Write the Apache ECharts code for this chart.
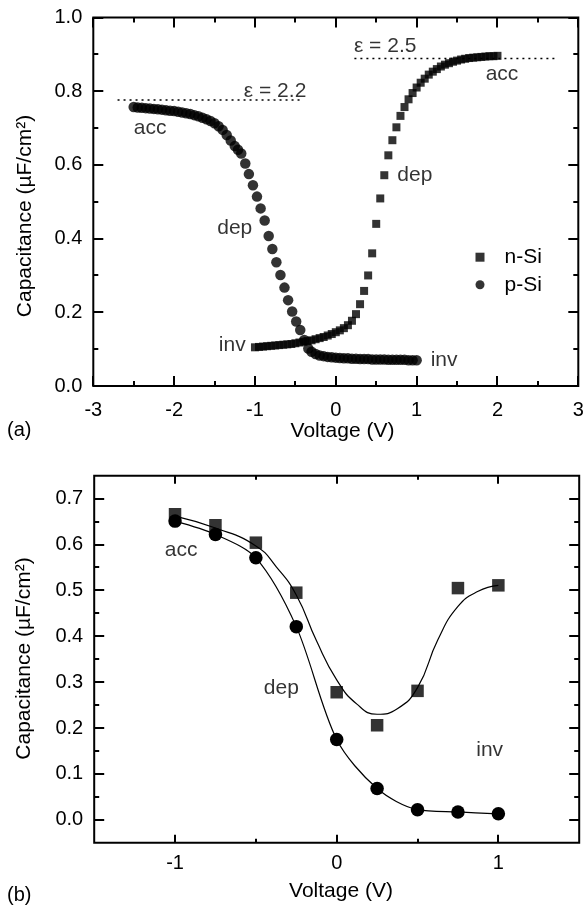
<!DOCTYPE html>
<html><head><meta charset="utf-8">
<script src="https://cdn.jsdelivr.net/npm/echarts@6/dist/echarts.min.js"></script>
<style>html,body{margin:0;padding:0;background:#fff}#c{width:585px;height:905px}</style>
</head><body><div id="c"></div>
<script>
const FONT = '"Liberation Sans", Arial, Helvetica, sans-serif';

// ---------- (a) top panel data ----------
const nSiVoltA = [-1.00,-0.95,-0.90,-0.85,-0.80,-0.75,-0.70,-0.65,-0.60,-0.55,-0.50,-0.45,-0.40,-0.35,-0.30,-0.25,-0.20,-0.15,-0.10,-0.05,0.00,0.05,0.10,0.15,0.20,0.25,0.30,0.35,0.40,0.45,0.50,0.55,0.60,0.65,0.70,0.75,0.80,0.85,0.90,0.95,1.00,1.05,1.10,1.15,1.20,1.25,1.30,1.35,1.40,1.45,1.50,1.55,1.60,1.65,1.70,1.75,1.80,1.85,1.90,1.95,2.00];
const nSiCapA = [0.105,0.106,0.107,0.108,0.109,0.110,0.111,0.112,0.113,0.114,0.116,0.118,0.120,0.122,0.124,0.127,0.130,0.133,0.137,0.141,0.146,0.151,0.157,0.165,0.177,0.195,0.222,0.258,0.300,0.360,0.440,0.509,0.572,0.626,0.667,0.702,0.733,0.757,0.778,0.795,0.810,0.823,0.834,0.845,0.853,0.860,0.867,0.872,0.876,0.880,0.883,0.886,0.888,0.890,0.891,0.892,0.893,0.894,0.895,0.895,0.896];

const pSiVoltA = [-2.50,-2.45,-2.40,-2.35,-2.30,-2.25,-2.20,-2.15,-2.10,-2.05,-2.00,-1.95,-1.90,-1.85,-1.80,-1.75,-1.70,-1.65,-1.60,-1.55,-1.50,-1.45,-1.40,-1.35,-1.30,-1.25,-1.21,-1.17,-1.12,-1.075,-1.025,-0.975,-0.93,-0.88,-0.83,-0.785,-0.735,-0.685,-0.635,-0.59,-0.54,-0.49,-0.44,-0.39,-0.34,-0.30,-0.25,-0.20,-0.15,-0.10,-0.05,0.00,0.05,0.10,0.15,0.20,0.25,0.30,0.35,0.40,0.45,0.50,0.55,0.60,0.65,0.70,0.75,0.80,0.85,0.90,0.95,1.00];
const pSiCapA = [0.757,0.756,0.755,0.754,0.753,0.752,0.751,0.750,0.748,0.747,0.746,0.744,0.742,0.740,0.738,0.735,0.732,0.728,0.724,0.719,0.713,0.705,0.695,0.681,0.666,0.651,0.641,0.631,0.604,0.575,0.545,0.514,0.482,0.449,0.407,0.372,0.336,0.301,0.267,0.233,0.202,0.175,0.152,0.125,0.102,0.093,0.087,0.083,0.081,0.079,0.078,0.077,0.076,0.075,0.075,0.074,0.074,0.073,0.073,0.073,0.072,0.072,0.072,0.072,0.071,0.071,0.071,0.071,0.071,0.070,0.070,0.070];

const eps22Volt = [-2.70, -0.40];
const eps22Cap  = [0.776, 0.776];
const eps25Volt = [0.23, 2.735];
const eps25Cap  = [0.889, 0.889];

const notesTextA = ['ε = 2.2', 'ε = 2.5', 'acc', 'dep', 'inv', 'dep', 'acc', 'inv'];
const notesVoltA = [-1.144, 0.218, -2.505, -1.473, -1.453, 0.755, 1.848, 1.167];
const notesCapA  = [0.801, 0.921, 0.699, 0.429, 0.110, 0.572, 0.847, 0.071];

const xTicksA = [-3, -2, -1, 0, 1, 2, 3];
const xMinorA = [-2.5, -1.5, -0.5, 0.5, 1.5, 2.5];
const yTicksA = [0.0, 0.2, 0.4, 0.6, 0.8, 1.0];
const yMinorA = [0.1, 0.3, 0.5, 0.7, 0.9];

// ---------- (b) bottom panel data ----------
const voltB = [-1, -0.75, -0.5, -0.25, 0, 0.25, 0.5, 0.75, 1];
const nSiCapB = [0.666, 0.642, 0.604, 0.495, 0.278, 0.206, 0.281, 0.505, 0.511];
const pSiCapB = [0.651, 0.622, 0.571, 0.421, 0.175, 0.068, 0.022, 0.017, 0.013];
const nFitVoltB = [-1, -0.75, -0.5, -0.375, -0.25, -0.125, 0, 0.125, 0.25, 0.375, 0.5, 0.625, 0.75, 0.875, 1];
const nFitCapB  = [0.662, 0.636, 0.597, 0.552, 0.490, 0.390, 0.305, 0.252, 0.230, 0.242, 0.288, 0.392, 0.465, 0.498, 0.511];

const notesTextB = ['acc', 'dep', 'inv'];
const notesVoltB = [-1.066, -0.454, 0.86];
const notesCapB  = [0.588, 0.287, 0.152];

const xTicksB = [-1, 0, 1];
const xMinorB = [-0.5, 0.5];
const yTicksB = [0.0, 0.1, 0.2, 0.3, 0.4, 0.5, 0.6, 0.7];
const yMinorB = [0.05, 0.15, 0.25, 0.35, 0.45, 0.55, 0.65];

// ---------- helpers ----------
const BLACK = '#000';
const xy = (xs, ys) => xs.map((x, i) => [x, ys[i]]);

function valueAxis(gi, pos, min, max, extra, labelOpt) {
  return Object.assign({
    type: 'value', gridIndex: gi, position: pos, min: min, max: max,
    splitLine: { show: false }, minorSplitLine: { show: false },
    axisLine: { show: false, onZero: false }, axisTick: { show: false }, minorTick: { show: false },
    axisLabel: Object.assign({ show: true, color: BLACK, fontSize: 20, fontFamily: FONT }, labelOpt)
  }, extra);
}

function notes(texts, xs, ys, xi, yi) {
  return {
    type: 'scatter', xAxisIndex: xi, yAxisIndex: yi, silent: true,
    symbol: 'circle', symbolSize: 1, itemStyle: { color: 'rgba(0,0,0,0)' },
    data: texts.map((t, i) => ({ name: t, value: [xs[i], ys[i]] })),
    label: { show: true, position: 'right', distance: 0, formatter: p => p.name,
      fontSize: 21, fontFamily: FONT, color: BLACK },
    z: 5
  };
}

// Inward frame ticks on all four sides, positioned through the axes' own scales (api.coord).
// item = [x, y, kind(0: x tick, 1: y tick), length px]
function tickSeries(xi, yi, xMaj, xMin, yMaj, yMin, x0, y0, lx, sx, ly, sy) {
  const data = []
    .concat(xMaj.map(v => [v, y0, 0, lx]), xMin.map(v => [v, y0, 0, sx]))
    .concat(yMaj.map(v => [x0, v, 1, ly]), yMin.map(v => [x0, v, 1, sy]));
  return {
    type: 'custom', xAxisIndex: xi, yAxisIndex: yi, silent: true, clip: false, z: 10,
    data: data,
    renderItem: function (params, api) {
      const cs = params.coordSys;
      const p = api.coord([api.value(0), api.value(1)]);
      const k = api.value(2), L = api.value(3);
      const st = { stroke: BLACK, lineWidth: 2 };
      let a, b;
      if (k === 0) {
        const x = Math.round(p[0]);
        a = { x1: x, y1: cs.y + cs.height, x2: x, y2: cs.y + cs.height - L };
        b = { x1: x, y1: cs.y, x2: x, y2: cs.y + L };
      } else {
        const y = Math.round(p[1]);
        a = { x1: cs.x, y1: y, x2: cs.x + L, y2: y };
        b = { x1: cs.x + cs.width, y1: y, x2: cs.x + cs.width - L, y2: y };
      }
      return { type: 'group', children: [
        { type: 'line', shape: a, style: st },
        { type: 'line', shape: b, style: st }
      ] };
    }
  };
}

const txt = (x, y, text, size, align, rot) => ({
  type: 'text', x: x, y: y, rotation: rot || 0, silent: true,
  style: { text: text, font: size + 'px ' + FONT, fill: BLACK,
           textAlign: align, textVerticalAlign: 'middle', align: align, verticalAlign: 'middle' }
});

const gridBox = { show: true, borderColor: BLACK, borderWidth: 2, backgroundColor: 'transparent',
                  containLabel: false, outerBoundsMode: 'none' };

const option = {
  backgroundColor: '#fff',
  animation: false,
  grid: [
    Object.assign({ left: 93.3, top: 17.5, width: 485, height: 368.5 }, gridBox),
    Object.assign({ left: 94.2, top: 475.7, width: 485, height: 367 }, gridBox)
  ],
  xAxis: [
    valueAxis(0, 'bottom', xTicksA[0], xTicksA[xTicksA.length - 1], { interval: 1 }, { margin: 14 }),
    valueAxis(1, 'bottom', -1.5, 1.5, {}, { margin: 11, customValues: xTicksB })
  ],
  yAxis: [
    valueAxis(0, 'left', yTicksA[0], yTicksA[yTicksA.length - 1], { interval: 0.2 },
              { margin: 11, formatter: v => v.toFixed(1) }),
    valueAxis(1, 'left', -0.05, 0.75, {}, { margin: 11, customValues: yTicksB, formatter: v => v.toFixed(1) })
  ],
  legend: {
    orient: 'vertical', left: 475.5, top: 246.7, padding: 0, itemGap: 6.6,
    itemWidth: 9, itemHeight: 9, selectedMode: false,
    textStyle: { fontSize: 21, fontFamily: FONT, color: BLACK, lineHeight: 20, padding: [0, 0, 0, 15] },
    data: [{ name: 'n-Si', icon: 'rect' }, { name: 'p-Si', icon: 'circle' }]
  },
  series: [
    tickSeries(0, 0, xTicksA, xMinorA, yTicksA, yMinorA, -3, 0, 10, 5, 10, 5),
    { name: 'n-Si', type: 'scatter', xAxisIndex: 0, yAxisIndex: 0, symbol: 'rect', symbolSize: 8,
      itemStyle: { color: BLACK }, data: xy(nSiVoltA, nSiCapA), silent: true },
    { name: 'p-Si', type: 'scatter', xAxisIndex: 0, yAxisIndex: 0, symbol: 'circle', symbolSize: 10.5,
      itemStyle: { color: BLACK }, data: xy(pSiVoltA, pSiCapA), silent: true },
    { name: 'eps22', type: 'line', xAxisIndex: 0, yAxisIndex: 0, symbol: 'none', silent: true,
      lineStyle: { color: BLACK, width: 1.5, type: [2, 4] }, data: xy(eps22Volt, eps22Cap) },
    { name: 'eps25', type: 'line', xAxisIndex: 0, yAxisIndex: 0, symbol: 'none', silent: true,
      lineStyle: { color: BLACK, width: 1.5, type: [2, 4] }, data: xy(eps25Volt, eps25Cap) },
    notes(notesTextA, notesVoltA, notesCapA, 0, 0),

    tickSeries(1, 1, xTicksB, xMinorB, yTicksB, yMinorB, -1.5, -0.05, 8, 4, 10, 5),
    { name: 'n-Si fit', type: 'line', xAxisIndex: 1, yAxisIndex: 1, smooth: true, showSymbol: false,
      symbol: 'none', silent: true, lineStyle: { color: BLACK, width: 1.2 }, data: xy(nFitVoltB, nFitCapB) },
    { name: 'n-Si', type: 'scatter', xAxisIndex: 1, yAxisIndex: 1, symbol: 'rect', symbolSize: 12.5,
      itemStyle: { color: BLACK }, data: xy(voltB, nSiCapB), silent: true, z: 4 },
    { name: 'p-Si', type: 'line', xAxisIndex: 1, yAxisIndex: 1, smooth: 0.3, symbol: 'circle', symbolSize: 13.5,
      showSymbol: true, itemStyle: { color: BLACK }, lineStyle: { color: BLACK, width: 1.2 },
      data: xy(voltB, pSiCapB), silent: true, z: 4 },
    notes(notesTextB, notesVoltB, notesCapB, 1, 1)
  ],
  graphic: [
    txt(25, 216, 'Capacitance (µF/cm²)', 21, 'center', Math.PI / 2),
    txt(24, 658.5, 'Capacitance (µF/cm²)', 21, 'center', Math.PI / 2),
    txt(342.5, 431, 'Voltage (V)', 21, 'center'),
    txt(341, 891, 'Voltage (V)', 21, 'center'),
    txt(7, 430.5, '(a)', 20, 'left'),
    txt(7, 895.5, '(b)', 20, 'left')
  ]
};

const chart = echarts.init(document.getElementById('c'), null, { renderer: 'canvas' });
chart.setOption(option);
</script>
</body></html>
